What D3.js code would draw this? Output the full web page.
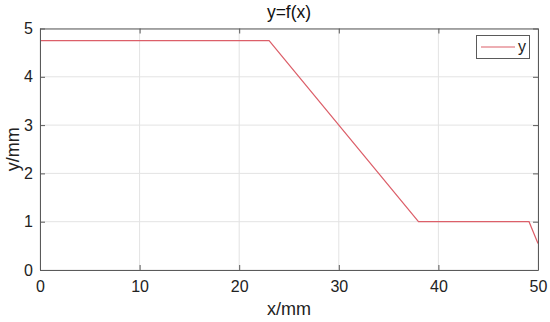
<!DOCTYPE html>
<html><head><meta charset="utf-8">
<script src="https://cdn.jsdelivr.net/npm/d3@7"></script>
<style>body{margin:0;background:#fff;}svg{display:block;font-family:"Liberation Sans",Arial,sans-serif;}</style>
</head><body>
<svg id="c" width="550" height="322"></svg>
<script>
const xs = [0, 23, 38, 49.1, 50];
const ys = [4.75, 4.75, 1, 1, 0.55];
const xTicks = [0, 10, 20, 30, 40, 50];
const yTicks = [0, 1, 2, 3, 4, 5];
const title = "y=f(x)", xLabel = "x/mm", yLabel = "y/mm", seriesName = "y";

const svg = d3.select("#c");
const m = {l: 40, r: 12, t: 28.5, b: 52};
const W = 550, H = 322;
const x = d3.scaleLinear().domain([0, 50]).range([m.l, W - m.r]);
const y = d3.scaleLinear().domain([0, 5]).range([H - m.b, m.t]);
const axisCol = "#5a5a5a";

// grid
svg.append("g").selectAll("line").data(xTicks).join("line")
  .attr("x1", d => x(d)).attr("x2", d => x(d)).attr("y1", y(0)).attr("y2", y(5))
  .attr("stroke", "#e3e3e3").attr("stroke-width", 1);
svg.append("g").selectAll("line").data(yTicks).join("line")
  .attr("y1", d => y(d)).attr("y2", d => y(d)).attr("x1", x(0)).attr("x2", x(50))
  .attr("stroke", "#e3e3e3").attr("stroke-width", 1);

// line
svg.append("path").datum(xs.map((d, i) => [d, ys[i]]))
  .attr("fill", "none").attr("stroke", "#dc5f69").attr("stroke-width", 1.2)
  .attr("d", d3.line().x(d => x(d[0])).y(d => y(d[1])));

// axes
const ax = svg.append("g").attr("transform", `translate(0,${y(0)})`)
  .call(d3.axisBottom(x).tickValues(xTicks).tickFormat(d3.format("d")).tickSizeInner(-5).tickSizeOuter(0).tickPadding(11));
const ay = svg.append("g").attr("transform", `translate(${x(0)},0)`)
  .call(d3.axisLeft(y).tickValues(yTicks).tickFormat(d3.format("d")).tickSizeInner(-5).tickSizeOuter(0).tickPadding(7));
const at = svg.append("g").attr("transform", `translate(0,${y(5)})`)
  .call(d3.axisTop(x).tickValues(xTicks).tickSizeInner(-5).tickSizeOuter(0).tickFormat(""));
const ar = svg.append("g").attr("transform", `translate(${x(50)},0)`)
  .call(d3.axisRight(y).tickValues(yTicks).tickSizeInner(-5).tickSizeOuter(0).tickFormat(""));
[ax, ay, at, ar].forEach(g => {
  g.selectAll("path,line").attr("stroke", axisCol);
  g.selectAll("text").attr("fill", "#222").style("font-size", "16px").style("font-family", "Liberation Sans, Arial, sans-serif");
});

// labels
svg.append("text").attr("x", (x(0) + x(50)) / 2).attr("y", 18).attr("text-anchor", "middle")
  .attr("fill", "#111").style("font-size", "17.5px").text(title);
svg.append("text").attr("x", (x(0) + x(50)) / 2).attr("y", 315).attr("text-anchor", "middle")
  .attr("fill", "#222").style("font-size", "18px").text(xLabel);
svg.append("text").attr("transform", `translate(19,${(y(0) + y(5)) / 2}) rotate(-90)`).attr("text-anchor", "middle")
  .attr("fill", "#222").style("font-size", "18px").text(yLabel);

// legend
const lg = svg.append("g");
lg.append("rect").attr("x", 476.5).attr("y", 35.5).attr("width", 53).attr("height", 23)
  .attr("fill", "#fff").attr("stroke", axisCol).attr("stroke-width", 1);
lg.append("line").attr("x1", 481).attr("x2", 515).attr("y1", 47).attr("y2", 47)
  .attr("stroke", "#dc5f69").attr("stroke-width", 1.2);
lg.append("text").attr("x", 518).attr("y", 52).attr("fill", "#222").style("font-size", "16px").text(seriesName);
</script>
</body></html>
